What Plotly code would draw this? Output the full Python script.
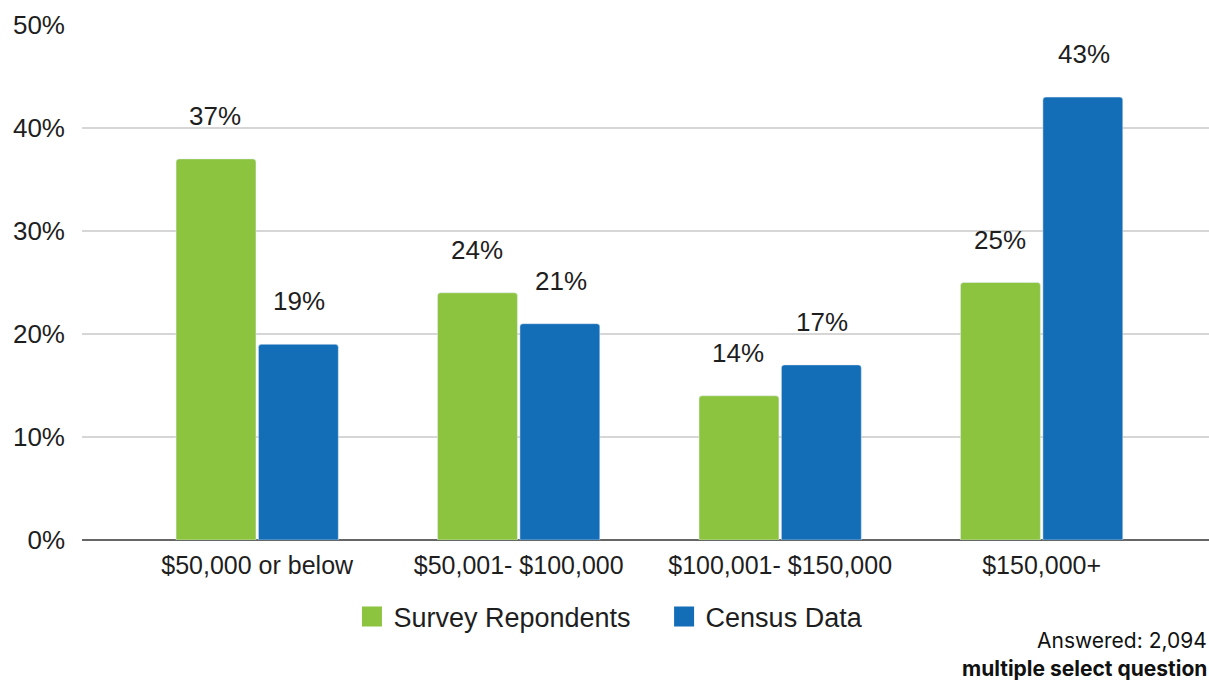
import plotly.graph_objects as go

categories = ["$50,000 or below", "$50,001- $100,000", "$100,001- $150,000", "$150,000+"]
survey = [37, 24, 14, 25]
census = [19, 21, 17, 43]
series_names = ["Survey Repondents", "Census Data"]
y_ticks = [0, 10, 20, 30, 40, 50]
y_tick_labels = ["0%", "10%", "20%", "30%", "40%", "50%"]

GREEN = "#8CC43F"
BLUE = "#136DB7"
FONT = "Liberation Sans, Arial, sans-serif"
TXT = "#1E1E1E"

fig = go.Figure()
fig.add_trace(go.Bar(x=categories, y=survey, name=series_names[0], showlegend=False,
                     marker=dict(color=GREEN, cornerradius=3)))
fig.add_trace(go.Bar(x=categories, y=census, name=series_names[1], showlegend=False,
                     marker=dict(color=BLUE, cornerradius=3)))
# legend entries with large square swatches
for k, (nm, col) in enumerate(zip(series_names, (GREEN, BLUE))):
    label = nm + ("\u2003" if k == 0 else "")
    fig.add_trace(go.Scatter(x=[None], y=[None], mode="markers", name=label,
                             marker=dict(symbol="square", size=17, color=col,
                                         line=dict(color=col, width=4))))

# value labels above bars
for i, cat in enumerate(categories):
    for vals, xs in ((survey, -42), (census, 42)):
        fig.add_annotation(x=cat, y=vals[i], text=f"{vals[i]}%", showarrow=False,
                           xshift=xs, yshift=43, yanchor="middle",
                           font=dict(family=FONT, size=26, color=TXT))

W, H = 1209, 682
L, R, T, B = 82, 0, 25, 142

def px_x(p):
    return (p - L) / (W - L - R)

def px_y(p):
    return (H - B - p) / (H - T - B)

fig.add_annotation(xref="paper", yref="paper", x=px_x(1209), y=px_y(640),
                   xanchor="right", yanchor="middle", showarrow=False,
                   text="Answered: 2,094",
                   font=dict(family="Inter, Roboto, sans-serif", size=21, color="#111111"))
fig.add_annotation(xref="paper", yref="paper", x=px_x(1209), y=px_y(668),
                   xanchor="right", yanchor="middle", showarrow=False,
                   text="<b>multiple select question</b>",
                   font=dict(family="Inter, Roboto, sans-serif", size=21, color="#111111"))

fig.update_layout(
    width=W, height=H,
    margin=dict(l=L, r=R, t=T, b=B, autoexpand=False),
    paper_bgcolor="white", plot_bgcolor="white",
    barmode="group", bargap=0.37, bargroupgap=0.03,
    font=dict(family=FONT, size=26, color=TXT),
    showlegend=True,
    legend=dict(orientation="h", x=0.468, xanchor="center", y=px_y(617), yanchor="middle",
                font=dict(family=FONT, size=27, color=TXT),
                itemsizing="trace", itemwidth=33),
    xaxis=dict(range=[-0.67, 3.64], showgrid=False, ticks="",
               ticklabelstandoff=8,
               tickfont=dict(family=FONT, size=25, color=TXT)),
    yaxis=dict(range=[0, 50], tickvals=y_ticks, ticktext=y_tick_labels,
               showgrid=True, gridcolor="#D6D6D6", gridwidth=1.5,
               zeroline=True, zerolinecolor="#666666", zerolinewidth=2,
               ticklabelstandoff=16,
               tickfont=dict(family=FONT, size=26, color=TXT)),
)

fig.write_html("out.html", config={"displayModeBar": False},
               post_script="document.body.style.margin='0';document.body.style.overflow='hidden';")
